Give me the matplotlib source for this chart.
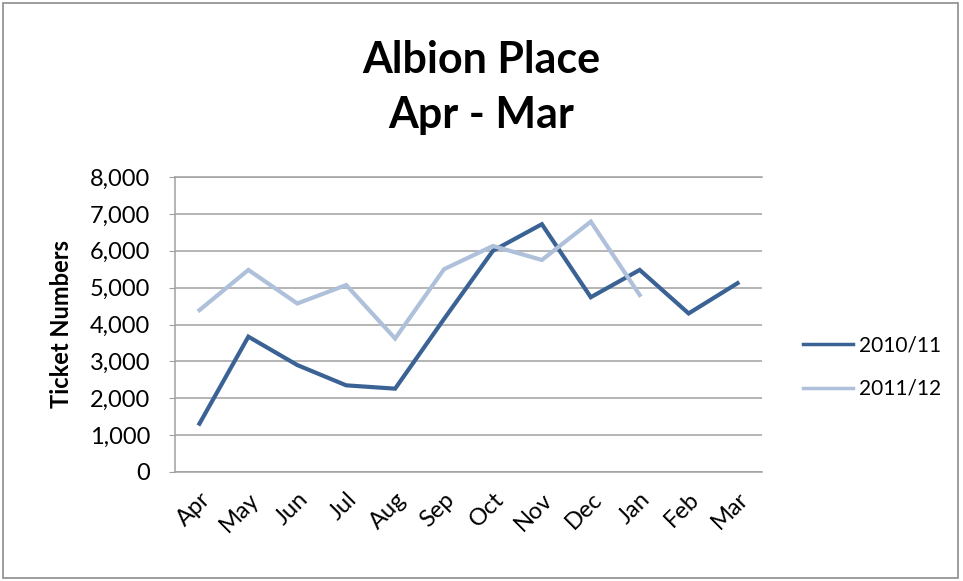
import matplotlib
matplotlib.use("Agg")
import matplotlib.pyplot as plt
from matplotlib.patches import Rectangle
from matplotlib.ticker import FuncFormatter

months = ["Apr", "May", "Jun", "Jul", "Aug", "Sep", "Oct", "Nov", "Dec", "Jan", "Feb", "Mar"]
series_2010 = [1310, 3670, 2900, 2350, 2260, 4150, 6000, 6720, 4740, 5480, 4300, 5120]
series_2011 = [4390, 5480, 4570, 5070, 3620, 5500, 6130, 5750, 6790, 4800]
labels = ["2010/11", "2011/12"]
yticks = [0, 1000, 2000, 3000, 4000, 5000, 6000, 7000, 8000]

plt.rcParams['font.family'] = ['Lato', 'DejaVu Sans']

fig = plt.figure(figsize=(9.63, 5.81), dpi=100)
ax = fig.add_axes([175/963, 1-472/581, (762-175)/963, (472-177)/581])

dark = "#3B6294"
light = "#AEC0DA"
ax.plot(range(len(series_2010)), series_2010, color=dark, lw=3.0, label=labels[0],
        solid_joinstyle='miter')
ax.plot(range(len(series_2011)), series_2011, color=light, lw=3.0, label=labels[1],
        solid_joinstyle='miter')

ax.set_xlim(-0.5, 11.5)
ax.set_ylim(0, 8000)
ax.set_yticks(yticks)
ax.yaxis.set_major_formatter(FuncFormatter(lambda v, p: f"{int(v):,}"))
ax.set_xticks(range(len(months)))
ax.set_xticklabels(months, rotation=45, ha='right', rotation_mode='anchor')
ax.grid(axis='y', color='#A0A0A0', lw=1.1)
ax.set_axisbelow(True)
ax.spines['right'].set_visible(False)
for s in ['left', 'bottom', 'top']:
    ax.spines[s].set_color('#A0A0A0')
    ax.spines[s].set_linewidth(1.1)
ax.tick_params(axis='y', length=4, color='#A0A0A0', labelsize=17, pad=14)
ax.tick_params(axis='x', length=0, labelsize=17, pad=12)
ax.set_ylabel("Ticket Numbers", fontsize=17, fontweight='bold', labelpad=12)

fig.text(0.5, 1-60/581, "Albion Place", ha='center', va='center', fontsize=31, fontweight='bold')
fig.text(0.5, 1-115/581, "Apr - Mar", ha='center', va='center', fontsize=31, fontweight='bold')

leg = ax.legend(loc='center left', frameon=False,
                fontsize=15, handlelength=2.4, labelspacing=1.15, handletextpad=0.3,
                borderpad=0, borderaxespad=0)
leg.set_bbox_to_anchor(((803-175)/587, 0.356), transform=ax.transAxes)
for l in leg.get_lines():
    l.set_linewidth(2.5)

fig.patches.append(Rectangle((3/963, 3/581), 955/963, 575/581, transform=fig.transFigure,
                             fill=False, edgecolor='#8C8C8C', lw=1.2))

fig.savefig("out.png", dpi=100)
